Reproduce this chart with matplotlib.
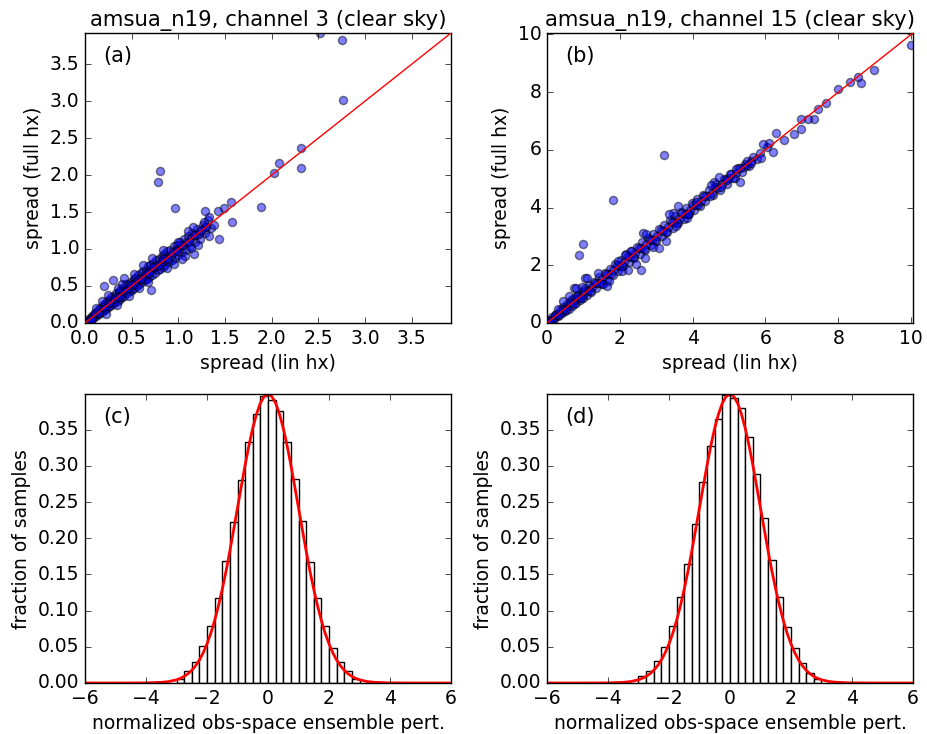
import matplotlib
matplotlib.use('Agg')
import matplotlib.pyplot as plt

plt.style.use('classic')
plt.rcParams['figure.facecolor'] = 'white'
plt.rcParams['savefig.facecolor'] = 'white'
plt.rcParams['font.family'] = ['DejaVu Sans']

# ---- panel (a): amsua_n19 channel 3, spread lin hx vs full hx ----
a_lin = [0.02, 0.04, 0.05, 0.07, 0.08, 0.10, 0.11, 0.12, 0.14, 0.15, 0.16, 0.18, 0.19, 0.20,
         0.21, 0.22, 0.24, 0.25, 0.26, 0.27, 0.28, 0.30, 0.31, 0.32, 0.33, 0.35, 0.36, 0.37,
         0.38, 0.40, 0.41, 0.42, 0.44, 0.45, 0.46, 0.48, 0.49, 0.50, 0.52, 0.53, 0.54, 0.56,
         0.57, 0.58, 0.60, 0.61, 0.62, 0.64, 0.65, 0.66, 0.68, 0.69, 0.70, 0.72, 0.73, 0.75,
         0.76, 0.78, 0.79, 0.80, 0.82, 0.83, 0.85, 0.86, 0.88, 0.90, 0.91, 0.93, 0.95, 0.96,
         0.98, 1.00, 1.02, 1.04, 1.06, 1.08, 1.10, 1.12, 1.15, 1.18, 1.20, 1.23, 1.26, 1.29,
         1.32, 1.35,
         0.03, 0.06, 0.09, 0.13, 0.17, 0.23, 0.29, 0.34, 0.39, 0.43, 0.47, 0.51, 0.55, 0.59,
         0.63, 0.67, 0.71, 0.74, 0.77, 0.81, 0.84, 0.87, 0.92, 0.97, 1.01, 1.05, 1.09, 1.14,
         1.19, 1.24, 1.30,
         0.05, 0.08, 0.11, 0.15, 0.19, 0.21, 0.26, 0.31, 0.36, 0.41, 0.45, 0.49, 0.54, 0.57,
         0.61, 0.66, 0.69, 0.73, 0.79, 0.83, 0.89, 0.94, 0.99, 1.03, 1.11, 1.17, 1.22, 1.28,
         0.12, 0.18, 0.25, 0.35, 0.22, 0.34, 0.47, 0.58, 0.62, 0.68, 0.72, 0.88, 0.95, 1.07,
         1.10, 1.16, 1.21, 1.27, 1.33, 1.38, 1.00, 0.53, 0.40,
         2.52, 2.75, 2.76, 2.31, 2.31, 2.08, 2.02, 1.88, 0.80, 0.78, 0.96, 1.56, 1.49, 1.42,
         1.28, 1.57, 1.44, 1.17, 0.84, 0.42, 0.30, 0.20, 0.71, 1.33, 1.24, 1.13, 1.04]
a_full = [0.03, 0.03, 0.07, 0.05, 0.10, 0.08, 0.14, 0.10, 0.17, 0.12, 0.20, 0.15, 0.24, 0.17,
          0.26, 0.19, 0.30, 0.21, 0.31, 0.23, 0.35, 0.26, 0.37, 0.28, 0.40, 0.30, 0.42, 0.33,
          0.45, 0.35, 0.47, 0.37, 0.52, 0.40, 0.53, 0.43, 0.56, 0.45, 0.60, 0.47, 0.61, 0.50,
          0.65, 0.52, 0.68, 0.55, 0.70, 0.58, 0.72, 0.60, 0.77, 0.62, 0.79, 0.65, 0.81, 0.68,
          0.85, 0.71, 0.87, 0.73, 0.90, 0.76, 0.93, 0.78, 0.97, 0.82, 0.99, 0.85, 1.04, 0.88,
          1.06, 0.92, 1.10, 0.96, 1.14, 0.99, 1.17, 1.04, 1.22, 1.10, 1.27, 1.14, 1.33, 1.22,
          1.39, 1.28,
          0.04, 0.06, 0.09, 0.13, 0.17, 0.24, 0.29, 0.35, 0.39, 0.44, 0.47, 0.52, 0.55, 0.60,
          0.63, 0.68, 0.71, 0.75, 0.77, 0.82, 0.84, 0.88, 0.92, 0.98, 1.01, 1.06, 1.09, 1.15,
          1.19, 1.25, 1.30,
          0.04, 0.06, 0.13, 0.13, 0.21, 0.20, 0.27, 0.33, 0.35, 0.43, 0.44, 0.51, 0.53, 0.59,
          0.60, 0.68, 0.67, 0.75, 0.78, 0.86, 0.87, 0.96, 0.97, 1.06, 1.09, 1.19, 1.20, 1.30,
          0.20, 0.30, 0.38, 0.47, 0.12, 0.24, 0.36, 0.47, 0.78, 0.55, 0.88, 0.74, 0.80, 0.90,
          1.24, 1.30, 1.05, 1.37, 1.43, 1.33, 1.09, 0.66, 0.52,
          3.92, 3.82, 3.02, 2.37, 2.10, 2.16, 2.03, 1.57, 2.06, 1.90, 1.56, 1.63, 1.56, 1.52,
          1.51, 1.37, 1.13, 0.93, 0.98, 0.61, 0.58, 0.50, 0.44, 1.18, 1.26, 1.01, 0.87]

# ---- panel (b): amsua_n19 channel 15 ----
b_lin = [0.05, 0.10, 0.15, 0.20, 0.25, 0.30, 0.35, 0.40, 0.45, 0.50, 0.55, 0.60, 0.65, 0.70,
         0.75, 0.80, 0.85, 0.90, 0.95, 1.00, 1.05, 1.10, 1.15, 1.20, 1.28, 1.35, 1.42, 1.50,
         1.58, 1.65, 1.72, 1.80, 1.88, 1.95, 2.02, 2.10, 2.18, 2.25, 2.32, 2.40, 2.48, 2.55,
         2.62, 2.70, 2.78, 2.85, 2.92, 3.00, 3.08, 3.15, 3.22, 3.30, 3.38, 3.45, 3.52, 3.60,
         3.68, 3.75, 3.82, 3.90, 3.98, 4.05, 4.12, 4.20, 4.28, 4.35, 4.45, 4.55, 4.65, 4.75,
         4.85, 4.95, 5.05, 5.15, 5.25, 5.35, 5.45, 5.55, 5.65, 5.78,
         0.08, 0.18, 0.28, 0.38, 0.48, 0.58, 0.68, 0.78, 0.88, 0.98, 1.12, 1.25, 1.38, 1.52,
         1.68, 1.82, 1.98, 2.12, 2.28, 2.42, 2.58, 2.72, 2.88, 3.02, 3.18, 3.32, 3.48, 3.62,
         3.78, 3.92, 4.08, 4.22, 4.38, 4.52, 4.68, 4.82, 5.00, 5.20, 5.40, 5.60,
         0.12, 0.22, 0.33, 0.43, 0.53, 0.63, 0.73, 0.83, 0.93, 1.03, 1.18, 1.32, 1.46, 1.62,
         1.76, 1.92, 2.06, 2.22, 2.36, 2.52, 2.66, 2.82, 2.96, 3.12, 3.26, 3.42, 3.56, 3.72,
         3.86, 4.02, 4.16, 4.32, 4.48, 4.62, 4.78, 4.92, 5.10, 5.30, 5.50,
         0.45, 0.60, 0.75, 1.05, 1.40, 1.55, 1.70, 2.05, 2.30, 2.45, 2.65, 2.90, 3.45, 3.55,
         3.85, 4.10, 4.60, 4.95, 5.20, 5.50, 5.85, 6.05, 6.10, 0.30, 0.95, 2.15, 1.95,
         10.00, 8.97, 8.61, 8.53, 8.31, 8.00, 7.65, 7.44, 7.33, 7.16, 6.98, 6.98, 6.79, 6.52,
         6.29, 6.20, 5.94, 5.88, 5.59, 5.30, 5.03, 4.73, 4.51, 3.22, 1.80, 1.00, 0.89, 3.61,
         3.36, 3.27, 3.07, 2.72, 2.69, 2.58, 2.22, 1.10, 0.80, 1.65, 3.86]
b_full = [0.08, 0.06, 0.22, 0.14, 0.32, 0.24, 0.45, 0.33, 0.55, 0.42, 0.66, 0.50, 0.78, 0.60,
          0.88, 0.68, 0.98, 0.78, 1.08, 0.88, 1.20, 0.98, 1.30, 1.06, 1.42, 1.22, 1.58, 1.36,
          1.74, 1.50, 1.88, 1.65, 2.05, 1.80, 2.18, 1.96, 2.38, 2.10, 2.48, 2.25, 2.65, 2.40,
          2.80, 2.54, 2.96, 2.70, 3.10, 2.85, 3.26, 3.00, 3.40, 3.14, 3.56, 3.30, 3.70, 3.45,
          3.86, 3.60, 4.00, 3.76, 4.15, 3.92, 4.28, 4.06, 4.45, 4.22, 4.60, 4.42, 4.80, 4.62,
          4.98, 4.82, 5.18, 5.02, 5.36, 5.22, 5.52, 5.45, 5.74, 5.70,
          0.09, 0.18, 0.29, 0.38, 0.49, 0.58, 0.69, 0.78, 0.89, 0.98, 1.13, 1.25, 1.39, 1.52,
          1.69, 1.82, 1.99, 2.12, 2.29, 2.42, 2.59, 2.72, 2.89, 3.02, 3.19, 3.32, 3.49, 3.62,
          3.79, 3.92, 4.09, 4.22, 4.39, 4.52, 4.69, 4.82, 5.01, 5.20, 5.41, 5.60,
          0.07, 0.28, 0.26, 0.50, 0.46, 0.71, 0.65, 0.92, 0.85, 1.12, 1.10, 1.40, 1.37, 1.70,
          1.68, 2.01, 1.97, 2.31, 2.27, 2.61, 2.57, 2.91, 2.87, 3.21, 3.17, 3.51, 3.46, 3.80,
          3.77, 4.10, 4.08, 4.40, 4.40, 4.70, 4.71, 5.00, 5.04, 5.36, 5.47,
          0.75, 0.95, 1.22, 1.55, 1.72, 1.35, 1.45, 1.80, 2.50, 2.05, 3.12, 2.62, 3.82, 3.35,
          3.65, 4.20, 4.90, 4.95, 5.35, 5.62, 5.90, 6.10, 6.25, 0.50, 1.25, 2.35, 2.15,
          9.65, 8.76, 8.33, 8.53, 8.36, 8.10, 7.64, 7.41, 7.06, 7.06, 6.74, 7.06, 6.54, 6.34,
          6.57, 5.91, 6.22, 5.71, 5.54, 4.87, 5.16, 5.05, 4.78, 5.82, 4.27, 2.74, 2.36, 4.04,
          3.78, 2.83, 2.60, 3.09, 2.26, 1.84, 1.84, 1.56, 1.22, 1.28, 3.78]

# ---- panels (c), (d): histograms of normalized obs-space ensemble perturbations ----
bin_left = [-3.0, -2.75, -2.5, -2.25, -2.0, -1.75, -1.5, -1.25, -1.0, -0.75, -0.5, -0.25,
            0.0, 0.25, 0.5, 0.75, 1.0, 1.25, 1.5, 1.75, 2.0, 2.25, 2.5, 2.75]
c_frac = [0.005, 0.017, 0.029, 0.051, 0.079, 0.117, 0.168, 0.222, 0.281, 0.333, 0.371, 0.397,
          0.391, 0.376, 0.333, 0.282, 0.224, 0.167, 0.117, 0.079, 0.048, 0.029, 0.016, 0.006]
d_frac = [0.009, 0.017, 0.031, 0.050, 0.079, 0.119, 0.164, 0.219, 0.277, 0.327, 0.365, 0.398,
          0.394, 0.380, 0.340, 0.289, 0.228, 0.170, 0.119, 0.078, 0.048, 0.028, 0.014, 0.005]

# gaussian reference curve
pdf_x = [-6.0, -5.0, -4.0, -3.5, -3.25, -3.0, -2.875, -2.75, -2.625, -2.5, -2.375, -2.25,
         -2.125, -2.0, -1.875, -1.75, -1.625, -1.5, -1.375, -1.25, -1.125, -1.0, -0.875,
         -0.75, -0.625, -0.5, -0.375, -0.25, -0.125, 0.0, 0.125, 0.25, 0.375, 0.5, 0.625,
         0.75, 0.875, 1.0, 1.125, 1.25, 1.375, 1.5, 1.625, 1.75, 1.875, 2.0, 2.125, 2.25,
         2.375, 2.5, 2.625, 2.75, 2.875, 3.0, 3.25, 3.5, 4.0, 5.0, 6.0]
pdf_y = [0.0, 0.0, 0.0001, 0.0009, 0.0020, 0.0044, 0.0064, 0.0091, 0.0127, 0.0175, 0.0238,
         0.0317, 0.0417, 0.0540, 0.0687, 0.0863, 0.1066, 0.1295, 0.1546, 0.1826, 0.2121,
         0.2420, 0.2717, 0.3011, 0.3282, 0.3521, 0.3716, 0.3867, 0.3958, 0.3989, 0.3958,
         0.3867, 0.3716, 0.3521, 0.3282, 0.3011, 0.2717, 0.2420, 0.2121, 0.1826, 0.1546,
         0.1295, 0.1066, 0.0863, 0.0687, 0.0540, 0.0417, 0.0317, 0.0238, 0.0175, 0.0127,
         0.0091, 0.0064, 0.0044, 0.0020, 0.0009, 0.0001, 0.0, 0.0]

FS = 13.5


def scatter_panel(ax, xs, ys, lim, ticks, title, tag):
    ax.scatter(xs, ys, s=34, c='b', edgecolors='k', alpha=0.5, linewidths=1.0, zorder=2)
    ax.plot([0, lim], [0, lim], color='r', lw=1.0, zorder=3)
    ax.set_xlim(0, lim)
    ax.set_ylim(0, lim)
    ax.set_xticks(ticks)
    ax.set_yticks(ticks)
    ax.set_title(title, fontsize=15.3)
    ax.set_xlabel('spread (lin hx)', fontsize=FS)
    ax.set_ylabel('spread (full hx)', fontsize=FS)
    ax.text(0.05, 0.92, tag, transform=ax.transAxes, fontsize=15, va='center')


def hist_panel(ax, heights, tag):
    ax.bar(bin_left, heights, width=0.25, align='edge', facecolor='white',
           edgecolor='k', linewidth=1.0)
    ax.plot(pdf_x, pdf_y, color='r', lw=2)
    ax.set_xlim(-6, 6)
    ax.set_ylim(0, 0.399)
    ax.set_xticks([-6, -4, -2, 0, 2, 4, 6])
    ax.set_yticks([0.0, 0.05, 0.10, 0.15, 0.20, 0.25, 0.30, 0.35])
    ax.set_yticklabels(['0.00', '0.05', '0.10', '0.15', '0.20', '0.25', '0.30', '0.35'])
    ax.set_xlabel('normalized obs-space ensemble pert.', fontsize=FS)
    ax.set_ylabel('fraction of samples', fontsize=FS)
    ax.text(0.05, 0.92, tag, transform=ax.transAxes, fontsize=15, va='center')


fig = plt.figure(figsize=(9.28, 7.34), dpi=100)
ax_a = fig.add_axes([0.0916, 0.560, 0.3944, 0.395])
ax_b = fig.add_axes([0.5894, 0.560, 0.3944, 0.395])
ax_c = fig.add_axes([0.0916, 0.0695, 0.3944, 0.3935])
ax_d = fig.add_axes([0.5894, 0.0695, 0.3944, 0.3935])

scatter_panel(ax_a, a_lin, a_full, 3.92, [0.0, 0.5, 1.0, 1.5, 2.0, 2.5, 3.0, 3.5],
              'amsua_n19, channel 3 (clear sky)', '(a)')
scatter_panel(ax_b, b_lin, b_full, 10.05, [0, 2, 4, 6, 8, 10],
              'amsua_n19, channel 15 (clear sky)', '(b)')
hist_panel(ax_c, c_frac, '(c)')
hist_panel(ax_d, d_frac, '(d)')

for ax in (ax_a, ax_b, ax_c, ax_d):
    ax.tick_params(labelsize=FS, direction='in', top=True, right=True)

fig.savefig('out.png', dpi=100)
